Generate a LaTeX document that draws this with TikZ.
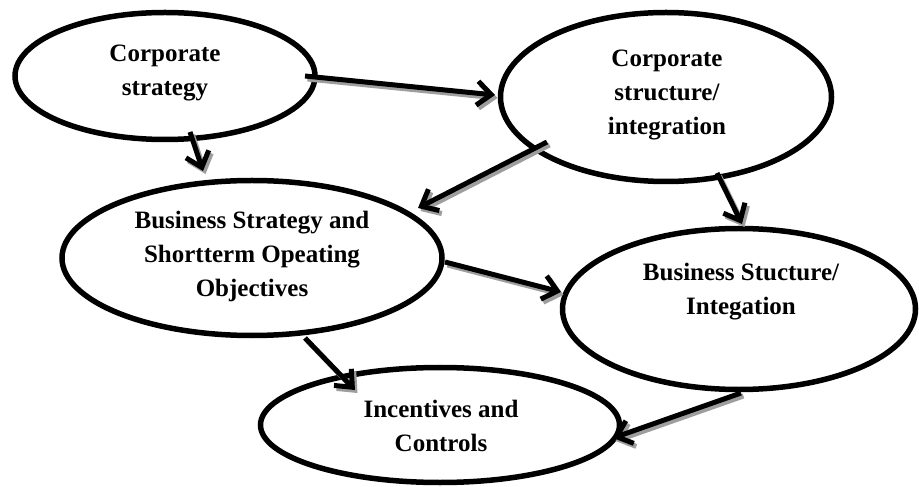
\documentclass[tikz,border=0pt]{standalone}
\usepackage{fontspec}
\setmainfont{Liberation Serif}
\usetikzlibrary{arrows.meta,calc,shapes.geometric}
\begin{document}
\begin{tikzpicture}[x=1bp,y=-1bp,
  oval/.style={ellipse, draw=black, line width=5.5bp, inner sep=0pt, fill=white},
  lbl/.style={font=\bfseries\fontsize{25bp}{34bp}\selectfont, align=center, inner sep=0pt},
  arr/.style={line width=5bp, draw=black, -{Straight Barb[length=14bp,width=24bp,line width=5bp]}},
  shd/.style={arr, draw=black!38}]
\useasboundingbox[fill=white] (0,0) rectangle (919,487);
% ellipses
\node[oval, minimum width=300bp, minimum height=127bp] (e1) at (165,76) {};
\node[oval, minimum width=331bp, minimum height=169bp] (e2) at (666,97) {};
\node[oval, minimum width=380bp, minimum height=155bp] (e3) at (252,258) {};
\node[oval, minimum width=353bp, minimum height=161bp] (e4) at (739,309) {};
\node[oval, minimum width=359bp, minimum height=115bp] (e5) at (440,425) {};
% labels
\node[lbl] (t1) at (165,73) {Corporate\\strategy};
\node[lbl] (t2) at (667,95) {Corporate\\structure/\\integration};
\node[lbl] (t3) at (252,256) {Business Strategy and\\Shortterm Opeating\\Objectives};
\node[lbl] (t4) at (741,292) {Business Stucture/\\Integation};
\node[lbl] (t5) at (441,426) {Incentives and\\Controls};
% arrow end points
\coordinate (a1s) at ($(e1)+(140,0)$);   \coordinate (a1t) at ($(e2)+(-171,-2)$);
\coordinate (a2s) at ($(e1)+(25,56)$);   \coordinate (a2t) at ($(e3)+(-49,-87)$);
\coordinate (a3s) at ($(e2)+(-119,45)$); \coordinate (a3t) at ($(e3)+(166,-50)$);
\coordinate (a4s) at ($(e2)+(51,76)$);   \coordinate (a4t) at ($(e4)+(3,-85)$);
\coordinate (a5s) at ($(e3)+(193,4)$);   \coordinate (a5t) at ($(e4)+(-178,-17)$);
\coordinate (a6s) at ($(e3)+(53,80)$);   \coordinate (a6t) at ($(e5)+(-85,-35)$);
\coordinate (a7s) at ($(e4)+(2,84)$);    \coordinate (a7t) at ($(e5)+(173,13)$);
\foreach \s/\t in {a1s/a1t,a2s/a2t,a3s/a3t,a4s/a4t,a5s/a5t,a6s/a6t,a7s/a7t}{
  \draw[shd] ([shift={(2.5,3)}]\s) -- ([shift={(2.5,3)}]\t);
  \draw[arr] (\s) -- (\t);
}
\end{tikzpicture}
\end{document}
